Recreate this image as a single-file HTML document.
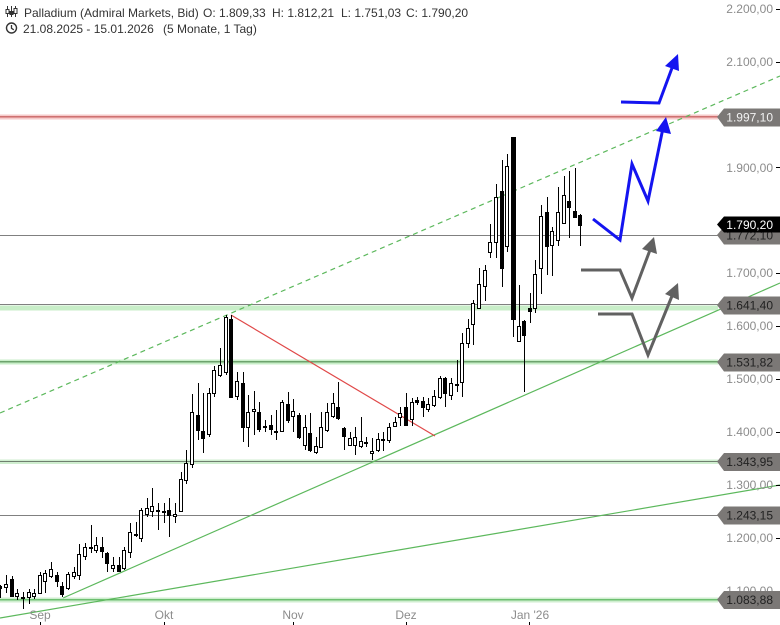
<!DOCTYPE html>
<html><head><meta charset="utf-8">
<style>
html,body{margin:0;padding:0;background:#fff;}
svg{display:block;font-family:"Liberation Sans",Arial,sans-serif;}
</style></head>
<body>
<svg width="780" height="625" viewBox="0 0 780 625" xmlns="http://www.w3.org/2000/svg">
<rect width="780" height="625" fill="#fff"/>

<!-- horizontal levels -->
<rect x="0" y="114.5" width="718" height="5" fill="#f6caca"/>
<line x1="0" y1="116.8" x2="718" y2="116.8" stroke="#c96464" stroke-width="1.3"/>
<line x1="0" y1="235.5" x2="718" y2="235.5" stroke="#808080" stroke-width="1"/>
<rect x="0" y="305.5" width="718" height="5" fill="#c8eec8"/>
<line x1="0" y1="304.5" x2="718" y2="304.5" stroke="#808080" stroke-width="1"/>
<rect x="0" y="359.5" width="718" height="5" fill="#c8eec8"/>
<line x1="0" y1="361.8" x2="718" y2="361.8" stroke="#4f8a4f" stroke-width="1.2"/>
<rect x="0" y="459.5" width="718" height="4.5" fill="#cfeecf"/>
<line x1="0" y1="461.5" x2="718" y2="461.5" stroke="#6f7f6f" stroke-width="1"/>
<line x1="0" y1="515.5" x2="718" y2="515.5" stroke="#808080" stroke-width="1"/>
<rect x="0" y="597.5" width="718" height="5" fill="#cfeecf"/>
<line x1="0" y1="599.8" x2="718" y2="599.8" stroke="#4caf50" stroke-width="1.2"/>

<!-- diagonals -->
<line x1="0" y1="413" x2="780" y2="76" stroke="#5cb85c" stroke-width="1.2" stroke-dasharray="5,4"/>
<line x1="63" y1="598" x2="780" y2="283" stroke="#5cb85c" stroke-width="1.2"/>
<line x1="0" y1="618" x2="780" y2="485" stroke="#5cb85c" stroke-width="1.2"/>
<line x1="231" y1="315" x2="435" y2="436" stroke="#e04848" stroke-width="1.2"/>

<!-- candles: wicks -->
<path stroke="#000" stroke-width="1" fill="none" shape-rendering="crispEdges" d="M0.5 585V598M6.5 575V593M12.5 576V597M17.5 589V600M23.5 592V609M29.5 589V604M34.5 589V599M40.5 572V594M45.5 570V593M51.5 562V578M57.5 572V587M62.5 582V597M68.5 572V590M74.5 567V579M79.5 544V580M85.5 543V560M91.5 525V553M96.5 537V553M102.5 537V558M107.5 552V572M113.5 557V572M119.5 557V572M124.5 547V570M130.5 523V558M136.5 522V537M141.5 508V542M147.5 498V517M152.5 488V517M158.5 503V530M164.5 503V523M169.5 498V537M175.5 503V523M181.5 472V512M186.5 450V484M192.5 394V468M198.5 383V440M203.5 393V453M209.5 388V437M214.5 366V397M220.5 348V377M226.5 315V375M231.5 315V398M237.5 372V400M243.5 372V442M248.5 395V447M254.5 391V435M259.5 402V432M265.5 420V432M271.5 415V435M276.5 410V440M282.5 400V432M288.5 392V423M293.5 399V432M299.5 413V439M305.5 415V450M310.5 413V452M316.5 437V454M321.5 412V448M327.5 403V432M333.5 393V418M338.5 382V420M344.5 427V450M350.5 432V446M355.5 427V455M361.5 417V448M366.5 437V447M372.5 438V460M378.5 433V452M383.5 432V451M389.5 423V443M395.5 417V427M400.5 407V426M406.5 393V426M412.5 398V426M417.5 397V405M423.5 397V417M428.5 398V412M434.5 390V407M440.5 376V399M445.5 377V407M451.5 378V400M457.5 360V392M462.5 333V397M468.5 319V348M473.5 300V345M479.5 268V309M485.5 265V301M490.5 224V258M496.5 184V258M502.5 160V287M507.5 154V252M513.5 137V337M519.5 285V342M524.5 320V392M530.5 293V323M535.5 260V313M541.5 205V294M547.5 197V275M552.5 227V276M558.5 187V246M564.5 176V224M569.5 171V238M575.5 168V218M580.5 214V246"/>
<!-- filled bodies -->
<path fill="#000" shape-rendering="crispEdges" d="M-2 586h4v3h-4zM10 579h4v18h-4zM55 575h4v7h-4zM60 586h4v9h-4zM89 547h4v2h-4zM100 547h4v5h-4zM105 553h4v11h-4zM117 565h4v7h-4zM134 534h4v2h-4zM156 510h4v2h-4zM167 510h4v6h-4zM196 415h4v16h-4zM201 431h4v8h-4zM229 319h4v79h-4zM241 383h4v45h-4zM257 412h4v18h-4zM269 425h4v5h-4zM274 431h4v2h-4zM286 404h4v17h-4zM297 415h4v23h-4zM308 433h4v18h-4zM336 407h4v12h-4zM342 428h4v9h-4zM364 442h4v2h-4zM381 439h4v2h-4zM404 407h4v19h-4zM415 400h4v3h-4zM421 401h4v7h-4zM443 378h4v16h-4zM455 384h4v2h-4zM500 191h4v78h-4zM511 137h5v183h-5zM522 321h4v15h-4zM528 308h4v4h-4zM545 212h4v35h-4zM567 201h4v7h-4zM573 211h4v7h-4zM578 215h4v11h-4z"/>
<!-- hollow bodies -->
<path fill="#fff" stroke="#000" stroke-width="1" shape-rendering="crispEdges" d="M4.5 584.5h3v3h-3zM15.5 593.5h3v3h-3zM21.5 597.5h3v1h-3zM27.5 592.5h3v5h-3zM32.5 593.5h3v3h-3zM38.5 575.5h3v18h-3zM43.5 573.5h3v8h-3zM49.5 569.5h3v7h-3zM66.5 574.5h3v14h-3zM72.5 572.5h3v4h-3zM77.5 554.5h3v21h-3zM83.5 547.5h3v9h-3zM94.5 545.5h3v5h-3zM111.5 565.5h3v3h-3zM122.5 550.5h3v18h-3zM128.5 532.5h3v20h-3zM139.5 510.5h3v28h-3zM145.5 508.5h3v6h-3zM150.5 506.5h3v5h-3zM162.5 511.5h3v1h-3zM173.5 514.5h3v2h-3zM179.5 479.5h3v32h-3zM184.5 463.5h3v17h-3zM190.5 412.5h3v52h-3zM207.5 393.5h3v41h-3zM212.5 370.5h3v23h-3zM218.5 365.5h3v10h-3zM224.5 317.5h3v55h-3zM235.5 381.5h3v15h-3zM246.5 412.5h3v15h-3zM252.5 409.5h3v2h-3zM263.5 426.5h3v1h-3zM280.5 402.5h3v29h-3zM291.5 411.5h3v5h-3zM303.5 427.5h3v18h-3zM314.5 446.5h3v6h-3zM319.5 427.5h3v20h-3zM325.5 412.5h3v18h-3zM331.5 403.5h3v13h-3zM348.5 438.5h3v7h-3zM353.5 437.5h3v8h-3zM359.5 441.5h3v5h-3zM370.5 451.5h3v2h-3zM376.5 439.5h3v11h-3zM387.5 427.5h3v13h-3zM393.5 422.5h3v4h-3zM398.5 413.5h3v4h-3zM410.5 402.5h3v17h-3zM426.5 404.5h3v5h-3zM432.5 396.5h3v9h-3zM438.5 378.5h3v19h-3zM449.5 383.5h3v12h-3zM460.5 343.5h3v39h-3zM466.5 328.5h3v15h-3zM471.5 303.5h3v21h-3zM477.5 284.5h3v24h-3zM483.5 270.5h3v16h-3zM488.5 242.5h3v10h-3zM494.5 197.5h3v45h-3zM505.5 166.5h3v80h-3zM517.5 326.5h3v15h-3zM533.5 274.5h3v34h-3zM539.5 216.5h3v52h-3zM550.5 231.5h3v14h-3zM556.5 212.5h3v28h-3zM562.5 195.5h3v28h-3z"/>

<!-- arrows -->
<g fill="none" stroke-width="3" stroke-linejoin="miter">
<polyline points="593,219 620,240 632,164 648,201 663,128" stroke="#1414f0"/>
<polyline points="621,102 659,103 672,68" stroke="#1414f0"/>
<polyline points="581,270 620,270 632,298 650,250" stroke="#616161"/>
<polyline points="598,314 632,314 648,355 672,296" stroke="#616161"/>
</g>
<polygon points="666,117 656,131 671,134" fill="#1414f0"/>
<polygon points="678,54 665,66 679,71" fill="#1414f0"/>
<polygon points="654,237 642,249 657,254" fill="#616161"/>
<polygon points="678,283 665,294 679,300" fill="#616161"/>

<!-- y axis labels -->
<g font-size="12" fill="#8c8c8c" text-anchor="end">
<text x="773" y="13">2.200,00</text>
<text x="773" y="66">2.100,00</text>
<text x="773" y="119">2.000,00</text>
<text x="773" y="172">1.900,00</text>
<text x="773" y="225">1.800,00</text>
<text x="773" y="277">1.700,00</text>
<text x="773" y="330">1.600,00</text>
<text x="773" y="383">1.500,00</text>
<text x="773" y="436">1.400,00</text>
<text x="773" y="489">1.300,00</text>
<text x="773" y="542">1.200,00</text>
<text x="773" y="595">1.100,00</text>
</g>
<path stroke="#000" stroke-width="1" d="M776 9.5h4M776 62.5h4M776 115.5h4M776 167.5h4M776 220.5h4M776 273.5h4M776 326.5h4M776 379.5h4M776 432.5h4M776 485.5h4M776 538.5h4M776 591.5h4"/>

<!-- price tags -->
<g font-size="12" text-anchor="end">
<polygon points="717,117 724,108.5 780,108.5 780,126.5 724,126.5" fill="#7b7876"/>
<text x="773" y="121.5" fill="#f2f2f2">1.997,10</text>
<polygon points="717,235 724,226.5 780,226.5 780,244.5 724,244.5" fill="#7b7876"/>
<text x="773" y="239.5" fill="#222">1.772,10</text>
<polygon points="717,224.5 724,216.5 780,216.5 780,232.5 724,232.5" fill="#000"/>
<text x="773" y="229" fill="#fff">1.790,20</text>
<polygon points="717,305 724,296.5 780,296.5 780,314.5 724,314.5" fill="#7b7876"/>
<text x="773" y="309.5" fill="#222">1.641,40</text>
<polygon points="717,362 724,353.5 780,353.5 780,371.5 724,371.5" fill="#7b7876"/>
<text x="773" y="366.5" fill="#222">1.531,82</text>
<polygon points="717,461.5 724,453 780,453 780,471 724,471" fill="#7b7876"/>
<text x="773" y="466" fill="#222">1.343,95</text>
<polygon points="717,515 724,506.5 780,506.5 780,524.5 724,524.5" fill="#7b7876"/>
<text x="773" y="519.5" fill="#222">1.243,15</text>
<polygon points="717,599.5 724,591 780,591 780,609 724,609" fill="#7b7876"/>
<text x="773" y="604" fill="#222">1.083,88</text>
</g>

<!-- x axis -->
<g font-size="12" fill="#8c8c8c" text-anchor="middle">
<text x="40" y="619">Sep</text>
<text x="164" y="619">Okt</text>
<text x="293" y="619">Nov</text>
<text x="406" y="619">Dez</text>
<text x="530" y="619">Jan '26</text>
</g>
<path stroke="#000" stroke-width="1" d="M40.5 622v3M164.5 622v3M293.5 622v3M406.5 622v3M529.5 622v3"/>

<!-- header -->
<g stroke="#333" stroke-width="1" fill="none">
<path d="M7.5 6v11M11.5 6v11M15.5 6v11"/>
<rect x="6" y="9.5" width="3" height="4" fill="#fff"/>
<rect x="10" y="11.5" width="3" height="3" fill="#333"/>
<rect x="14" y="8.5" width="3" height="5" fill="#fff"/>
<circle cx="11.5" cy="28" r="5" stroke-width="1.4"/>
<path d="M11.5 25v3.3l2.3 1.5" stroke-width="1.3"/>
</g>
<g font-size="12" fill="#333">
<text x="24" y="17">Palladium (Admiral Markets, Bid)</text>
<text x="203" y="17">O: 1.809,33</text>
<text x="272" y="17">H: 1.812,21</text>
<text x="341" y="17">L: 1.751,03</text>
<text x="406" y="17">C: 1.790,20</text>
<text x="23" y="33">21.08.2025 - 15.01.2026</text>
<text x="163" y="33">(5 Monate, 1 Tag)</text>
</g>
</svg>
</body></html>
